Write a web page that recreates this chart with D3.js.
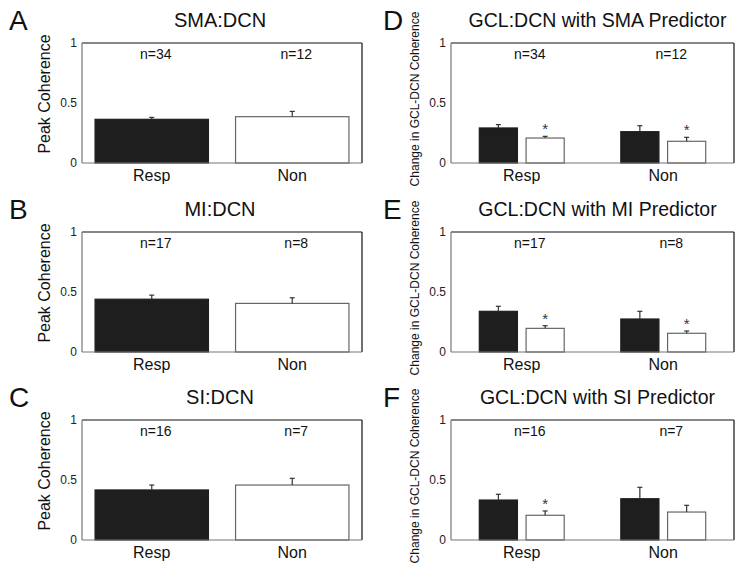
<!DOCTYPE html>
<html><head><meta charset="utf-8">
<script src="https://cdnjs.cloudflare.com/ajax/libs/d3/7.8.5/d3.min.js"></script>
<style>html,body{margin:0;padding:0;background:#fff}svg{display:block}text{font-family:"Liberation Sans",Arial,sans-serif}</style>
</head><body><svg id="c" width="745" height="576"></svg>
<script>
const categories = ["Resp", "Non"];
const panelLetters = ["A","B","C","D","E","F"];
const leftTitles = ["SMA:DCN", "MI:DCN", "SI:DCN"];
const rightTitles = ["GCL:DCN with SMA Predictor", "GCL:DCN with MI Predictor", "GCL:DCN with SI Predictor"];
const leftMeans = [[0.364, 0.386], [0.440, 0.405], [0.417, 0.458]];
const leftErrs  = [[0.016, 0.044], [0.034, 0.047], [0.041, 0.056]];
const leftN     = [["n=34", "n=12"], ["n=17", "n=8"], ["n=16", "n=7"]];
const rightBlack    = [[0.292, 0.261], [0.339, 0.275], [0.333, 0.344]];
const rightBlackErr = [[0.028, 0.050], [0.042, 0.064], [0.048, 0.095]];
const rightWhite    = [[0.208, 0.181], [0.197, 0.156], [0.206, 0.233]];
const rightWhiteErr = [[0.014, 0.033], [0.022, 0.019], [0.036, 0.056]];
const rightStars    = [[true, true], [true, true], [true, false]];
const yTicks = [0, 0.5, 1];
const yTickLabels = ["0", "0.5", "1"];
const leftYLabel = "Peak Coherence";
const rightYLabel = "Change in GCL-DCN Coherence";

const svg = d3.select("#c");
const rowTops = [43, 232, 420];
const boxH = 120;
const leftBox = [82, 362];
const rightBox = [451, 734];

function frame(g, x0, x1, y) {
  const [top, bot] = y.range().slice().reverse();
  g.append("line").attr("x1", x0).attr("x2", x1).attr("y1", top).attr("y2", top).attr("stroke", "#111").attr("stroke-width", 1.2);
  g.append("line").attr("x1", x1).attr("x2", x1).attr("y1", top).attr("y2", bot).attr("stroke", "#111").attr("stroke-width", 1.2);
  g.append("line").attr("x1", x0).attr("x2", x0).attr("y1", top).attr("y2", bot).attr("stroke", "#777").attr("stroke-width", 1.2);
  g.append("line").attr("x1", x0).attr("x2", x1).attr("y1", bot).attr("y2", bot).attr("stroke", "#777").attr("stroke-width", 1.2);
  const ax = d3.axisLeft(y).tickValues(yTicks).tickFormat((d, i) => yTickLabels[i]).tickSize(0).tickPadding(5);
  const a = g.append("g").attr("transform", `translate(${x0},0)`).call(ax);
  a.select(".domain").remove();
  a.selectAll("text").attr("font-size", 12).attr("fill", "#222").style("font-family", '"Liberation Sans",Arial,sans-serif');
}

function errBar(g, cx, yv, ye, y) {
  g.append("line").attr("x1", cx).attr("x2", cx).attr("y1", y(yv)).attr("y2", y(yv + ye)).attr("stroke", "#333").attr("stroke-width", 1.2);
  g.append("line").attr("x1", cx - 2.5).attr("x2", cx + 2.5).attr("y1", y(yv + ye)).attr("y2", y(yv + ye)).attr("stroke", "#333").attr("stroke-width", 1.2);
}

for (let r = 0; r < 3; r++) {
  const top = rowTops[r];
  const y = d3.scaleLinear().domain([0, 1]).range([top + boxH, top]);

  // LEFT PANEL
  {
    const g = svg.append("g");
    const x = d3.scaleBand().domain(categories).range(leftBox).paddingInner(0.193).paddingOuter(0.093);
    categories.forEach((c, i) => {
      const v = leftMeans[r][i];
      g.append("rect").attr("x", x(c)).attr("y", y(v)).attr("width", x.bandwidth()).attr("height", y(0) - y(v))
        .attr("fill", i === 0 ? "#1e1e1e" : "#fff").attr("stroke", i === 0 ? "#1e1e1e" : "#666").attr("stroke-width", 1.2);
      errBar(g, x(c) + x.bandwidth() / 2, v, leftErrs[r][i], y);
      g.append("text").attr("x", x(c) + x.bandwidth() / 2 + 4).attr("y", top + 16).attr("text-anchor", "middle")
        .attr("font-size", 14).attr("fill", "#111").text(leftN[r][i]);
      g.append("text").attr("x", x(c) + x.bandwidth() / 2).attr("y", top + boxH + 18).attr("text-anchor", "middle")
        .attr("font-size", 16).attr("fill", "#111").text(c);
    });
    frame(g, leftBox[0], leftBox[1], y);
    g.append("text").attr("x", (leftBox[0] + leftBox[1]) / 2 - 2).attr("y", top - 16).attr("text-anchor", "middle")
      .attr("font-size", 20).attr("fill", "#111").text(leftTitles[r]);
    g.append("text").attr("x", 9).attr("y", top - 13).attr("font-size", 28).attr("fill", "#111").text(panelLetters[r]);
    g.append("text").attr("transform", `translate(50,${top + boxH / 2 - 9}) rotate(-90)`).attr("text-anchor", "middle")
      .attr("font-size", 16).attr("fill", "#111").text(leftYLabel);
  }

  // RIGHT PANEL
  {
    const g = svg.append("g");
    const x0 = d3.scaleBand().domain(categories).range(rightBox).paddingInner(0.4).paddingOuter(0.2);
    const x1 = d3.scaleBand().domain(["full", "partial"]).range([0, x0.bandwidth()]).paddingInner(0.185);
    categories.forEach((c, i) => {
      const vb = rightBlack[r][i], vw = rightWhite[r][i];
      g.append("rect").attr("x", x0(c) + x1("full")).attr("y", y(vb)).attr("width", x1.bandwidth()).attr("height", y(0) - y(vb))
        .attr("fill", "#1e1e1e").attr("stroke", "#1e1e1e").attr("stroke-width", 1.2);
      errBar(g, x0(c) + x1("full") + x1.bandwidth() / 2, vb, rightBlackErr[r][i], y);
      g.append("rect").attr("x", x0(c) + x1("partial")).attr("y", y(vw)).attr("width", x1.bandwidth()).attr("height", y(0) - y(vw))
        .attr("fill", "#fff").attr("stroke", "#666").attr("stroke-width", 1.2);
      const cx = x0(c) + x1("partial") + x1.bandwidth() / 2;
      errBar(g, cx, vw, rightWhiteErr[r][i], y);
      if (rightStars[r][i]) {
        g.append("text").attr("x", cx).attr("y", y(vw + rightWhiteErr[r][i]) - 2).attr("text-anchor", "middle")
          .attr("font-size", 15).attr("fill", "#333").text("*");
      }
      g.append("text").attr("x", x0(c) + x0.bandwidth() / 2 + 8).attr("y", top + 16).attr("text-anchor", "middle")
        .attr("font-size", 14).attr("fill", "#111").text(leftN[r][i]);
      g.append("text").attr("x", x0(c) + x0.bandwidth() / 2).attr("y", top + boxH + 18).attr("text-anchor", "middle")
        .attr("font-size", 16).attr("fill", "#111").text(c);
    });
    frame(g, rightBox[0], rightBox[1], y);
    g.append("text").attr("x", (rightBox[0] + rightBox[1]) / 2 + 5).attr("y", top - 16).attr("text-anchor", "middle")
      .attr("font-size", 19.5).attr("fill", "#111").text(rightTitles[r]);
    g.append("text").attr("x", 383).attr("y", top - 13).attr("font-size", 28).attr("fill", "#111").text(panelLetters[r + 3]);
    g.append("text").attr("transform", `translate(419,${top + boxH / 2 - 4}) rotate(-90)`).attr("text-anchor", "middle")
      .attr("font-size", 12).attr("fill", "#111").text(rightYLabel);
  }
}
</script></body></html>
